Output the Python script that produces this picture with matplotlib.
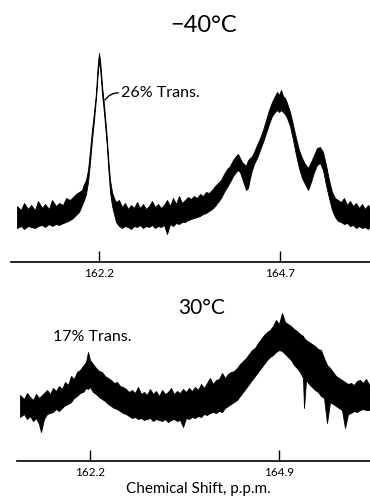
import numpy as np
import matplotlib
matplotlib.use("Agg")
import matplotlib.pyplot as plt

plt.rcParams['font.family'] = ['Lato', 'DejaVu Sans']
plt.rcParams['font.weight'] = 'normal'

# ---------------- -40 C spectrum (upper / lower edge of the noisy trace) ----------------
ppm_cold = [161.067, 161.123, 161.164, 161.219, 161.261, 161.316, 161.357, 161.413, 161.454, 161.509,
            161.551, 161.606, 161.648, 161.703, 161.744, 161.799, 161.841, 161.882, 161.924, 161.965,
            161.993, 162.020, 162.048, 162.076, 162.103, 162.131, 162.159, 162.172, 162.186, 162.200,
            162.214, 162.228, 162.241, 162.269, 162.297, 162.310, 162.324, 162.338, 162.352, 162.380,
            162.407, 162.435, 162.476, 162.518, 162.559, 162.601, 162.642, 162.683, 162.725, 162.766,
            162.808, 162.849, 162.891, 162.932, 162.973, 163.015, 163.056, 163.098, 163.139, 163.181,
            163.222, 163.264, 163.305, 163.346, 163.388, 163.429, 163.471, 163.512, 163.554, 163.595,
            163.636, 163.678, 163.719, 163.761, 163.802, 163.844, 163.885, 163.927, 163.968, 164.009,
            164.051, 164.092, 164.120, 164.147, 164.175, 164.203, 164.230, 164.258, 164.286, 164.313,
            164.341, 164.382, 164.424, 164.465, 164.507, 164.548, 164.589, 164.631, 164.659, 164.686,
            164.714, 164.741, 164.769, 164.797, 164.838, 164.880, 164.921, 164.962, 165.004, 165.045,
            165.087, 165.128, 165.170, 165.211, 165.252, 165.294, 165.335, 165.377, 165.418, 165.460,
            165.501, 165.543, 165.584, 165.625, 165.667, 165.708, 165.750, 165.791, 165.833, 165.874,
            165.915, 165.943]
upper_cold = [56, 52, 59, 53, 57, 52, 61, 54, 58, 53,
              62, 56, 59, 57, 64, 62, 65, 68, 70, 72,
              78, 82, 92, 112, 132, 150, 170, 186, 200, 209,
              202, 190, 177, 157, 134, 122, 107, 94, 82, 70,
              64, 60, 62, 55, 59, 53, 57, 54, 60, 54,
              58, 53, 56, 61, 55, 58, 54, 57, 62, 56,
              64, 58, 66, 59, 62, 65, 63, 66, 64, 68,
              66, 70, 69, 72, 76, 79, 82, 88, 93, 96,
              102, 106, 108, 104, 100, 98, 96, 102, 104, 106,
              110, 117, 124, 132, 142, 152, 160, 166, 170, 167,
              172, 166, 164, 159, 150, 137, 124, 112, 104, 98,
              94, 100, 107, 114, 115, 110, 97, 82, 70, 64,
              62, 60, 64, 57, 61, 56, 59, 54, 58, 53,
              57, 54]
lower_cold = [34, 36, 33, 36, 35, 34, 36, 37, 35, 38,
              36, 38, 37, 39, 40, 42, 44, 47, 50, 57,
              62, 68, 80, 100, 122, 142, 164, 178, 192, 200,
              194, 182, 169, 149, 126, 114, 98, 84, 70, 56,
              48, 40, 36, 34, 36, 35, 33, 36, 35, 37,
              34, 36, 35, 37, 34, 36, 35, 37, 28, 38,
              36, 39, 38, 40, 40, 42, 43, 44, 45, 46,
              48, 49, 51, 53, 56, 60, 64, 70, 75, 80,
              86, 90, 92, 90, 84, 78, 72, 74, 84, 92,
              98, 104, 112, 120, 129, 138, 146, 150, 152, 150,
              152, 150, 148, 144, 136, 122, 107, 94, 84, 78,
              72, 80, 90, 97, 99, 92, 77, 64, 52, 45,
              41, 40, 38, 39, 36, 37, 34, 36, 34, 35,
              33, 36]

# ---------------- 30 C spectrum ----------------
ppm_warm = [161.200, 161.257, 161.300, 161.343, 161.386, 161.429, 161.471, 161.500, 161.543, 161.586,
            161.629, 161.671, 161.714, 161.757, 161.800, 161.843, 161.886, 161.929, 161.971, 162.014,
            162.057, 162.100, 162.143, 162.171, 162.200, 162.243, 162.286, 162.329, 162.371, 162.414,
            162.457, 162.500, 162.543, 162.586, 162.629, 162.671, 162.714, 162.757, 162.800, 162.843,
            162.886, 162.929, 162.971, 163.014, 163.057, 163.100, 163.143, 163.186, 163.229, 163.271,
            163.314, 163.357, 163.400, 163.443, 163.486, 163.529, 163.571, 163.614, 163.657, 163.700,
            163.743, 163.786, 163.829, 163.871, 163.914, 163.957, 164.000, 164.043, 164.086, 164.129,
            164.171, 164.214, 164.257, 164.300, 164.343, 164.386, 164.429, 164.471, 164.514, 164.557,
            164.600, 164.643, 164.686, 164.729, 164.771, 164.814, 164.857, 164.900, 164.943, 164.986,
            165.029, 165.071, 165.114, 165.157, 165.200, 165.243, 165.257, 165.286, 165.329, 165.371,
            165.414, 165.457, 165.500, 165.543, 165.586, 165.629, 165.671, 165.714, 165.757, 165.800,
            165.843, 165.886, 165.929, 165.971, 166.014, 166.057, 166.100, 166.143, 166.200]
upper_warm = [64, 60, 66, 62, 59, 65, 61, 63, 66, 69,
              65, 71, 68, 73, 70, 77, 74, 83, 80, 87,
              89, 93, 97, 107, 99, 95, 91, 88, 87, 83,
              81, 79, 76, 77, 73, 72, 70, 67, 69, 66,
              72, 65, 67, 64, 70, 65, 68, 63, 69, 65,
              67, 71, 65, 68, 66, 70, 67, 71, 68, 72,
              69, 75, 71, 76, 81, 75, 79, 80, 86, 81,
              85, 87, 88, 91, 95, 98, 101, 105, 109, 111,
              116, 120, 124, 127, 129, 133, 139, 135, 146, 137,
              135, 133, 130, 128, 125, 123, 121, 119, 117, 115,
              113, 110, 109, 101, 94, 91, 87, 83, 81, 79,
              77, 75, 76, 74, 78, 79, 76, 80, 73]
lower_warm = [42, 45, 40, 43, 38, 41, 35, 27, 40, 45,
              46, 47, 50, 48, 51, 54, 55, 57, 61, 63,
              66, 67, 71, 70, 72, 67, 65, 62, 60, 58,
              55, 53, 51, 50, 48, 46, 45, 43, 41, 42,
              40, 41, 39, 40, 41, 38, 40, 39, 38, 40,
              37, 39, 40, 38, 39, 32, 41, 40, 42, 41,
              43, 42, 45, 44, 46, 47, 46, 48, 47, 51,
              53, 55, 57, 59, 63, 67, 71, 75, 79, 83,
              87, 91, 95, 99, 102, 104, 107, 109, 108, 105,
              102, 99, 94, 91, 87, 81, 51, 79, 75, 72,
              69, 67, 63, 61, 36, 57, 55, 53, 51, 49,
              31, 45, 46, 48, 47, 49, 50, 49, 49]

ticks_cold = [162.2, 164.7]
ticklabels_cold = ["162.2", "164.7"]
ticks_warm = [162.2, 164.9]
ticklabels_warm = ["162.2", "164.9"]

W, H = 370, 503
fig = plt.figure(figsize=(W / 100, H / 100), dpi=100)

ax1 = fig.add_axes([11 / W, 1 - 262 / H, 359 / W, 222 / H])
ax1.set_xlim(160.9845, 165.943)
ax1.set_ylim(0, 222)
ax2 = fig.add_axes([17 / W, 1 - 461 / H, 353 / W, 171 / H])
ax2.set_xlim(161.157, 166.2)
ax2.set_ylim(-2, 169)

for ax, x, lo, hi, tk, tl in [(ax1, ppm_cold, lower_cold, upper_cold, ticks_cold, ticklabels_cold),
                              (ax2, ppm_warm, lower_warm, upper_warm, ticks_warm, ticklabels_warm)]:
    ax.fill_between(x, lo, hi, color='black', linewidth=0.6)
    ax.patch.set_alpha(0)
    for s in ['top', 'left', 'right']:
        ax.spines[s].set_visible(False)
    ax.spines['bottom'].set_linewidth(1.2)
    ax.set_yticks([])
    ax.set_xticks(tk)
    ax.set_xticklabels(tl)
    ax.tick_params(axis='x', direction='in', length=8, width=1.0, pad=4, labelsize=8.5)

fig.text(204 / W, 1 - 25 / H, "\u221240\u00b0C", ha='center', va='center', fontsize=17)
fig.text(202 / W, 1 - 308 / H, "30\u00b0C", ha='center', va='center', fontsize=15)
fig.text(198 / W, 1 - 489 / H, "Chemical Shift, p.p.m.", ha='center', va='center', fontsize=11)
fig.text(53 / W, 1 - 337 / H, "17% Trans.", ha='left', va='center', fontsize=11.5)

ax1.annotate("26% Trans.", xy=(162.283, 162), xycoords='data',
             xytext=(121 / W, 1 - 93 / H), textcoords='figure fraction',
             ha='left', va='center', fontsize=11.5,
             arrowprops=dict(arrowstyle='-', lw=1.0, relpos=(0, 0.5),
                             connectionstyle='arc3,rad=0.3', shrinkA=0, shrinkB=0))

fig.savefig("out.png", dpi=100)
